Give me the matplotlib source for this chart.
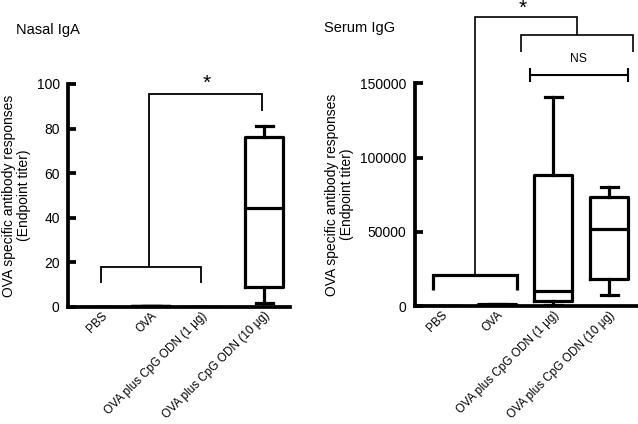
import matplotlib
matplotlib.use("Agg")
import matplotlib.pyplot as plt

plt.rcParams['font.family'] = ['Liberation Sans', 'DejaVu Sans']

categories = ["PBS", "OVA", "OVA plus CpG ODN (1 μg)", "OVA plus CpG ODN (10 μg)"]

# Nasal IgA box stats: (min, q1, median, q3, max)
iga_stats = [
    (0, 0, 0, 0, 0),
    (0.3, 0.3, 0.3, 0.3, 0.3),
    (0, 0, 0, 0, 0),
    (2, 8.8, 44.2, 76.4, 81.3),
]
# Serum IgG box stats
igg_stats = [
    (0, 0, 0, 0, 0),
    (0, 0, 800, 1500, 1500),
    (500, 3570, 10300, 88200, 141000),
    (7200, 18400, 52100, 73600, 80400),
]

iga_ticks = [0, 20, 40, 60, 80, 100]
igg_ticks = [0, 50000, 100000, 150000]

fig = plt.figure(figsize=(6.38, 4.24), dpi=100)

LW = 2.3


def make_stats(stats):
    out = []
    for mn, q1, med, q3, mx in stats:
        out.append(dict(whislo=mn, q1=q1, med=med, q3=q3, whishi=mx, fliers=[]))
    return out


def style_axes(ax, ticks, ylim):
    for s in ['top', 'right']:
        ax.spines[s].set_visible(False)
    ax.spines['left'].set_linewidth(LW + 0.4)
    ax.spines['bottom'].set_linewidth(LW + 0.4)
    ax.spines['left'].set_bounds(ticks[0], ticks[-1])
    ax.set_ylim(*ylim)
    ax.set_yticks(ticks)
    ax.set_yticklabels([str(t) for t in ticks], fontsize=10)
    ax.tick_params(axis='y', direction='in', length=6, width=LW + 0.4, pad=6)
    ax.tick_params(axis='x', length=0, pad=2)


def line(ax, xs, ys, lw):
    ax.plot(xs, ys, color='black', lw=lw, clip_on=False, solid_capstyle='butt',
            solid_joinstyle='miter')


# ---------- Left panel: Nasal IgA ----------
ax1 = fig.add_axes([0.1066, 0.276, 0.348, 0.526])
pos1 = [1, 2, 3, 4.26]
ax1.bxp(make_stats(iga_stats), positions=pos1, widths=0.76, showfliers=False,
        boxprops=dict(lw=LW, color='black'), whiskerprops=dict(lw=LW, color='black'),
        capprops=dict(lw=LW, color='black'), medianprops=dict(lw=LW, color='black'),
        capwidths=0.34, manage_ticks=False)
ax1.set_xlim(0.34, 4.78)
style_axes(ax1, iga_ticks, (0, 100))
ax1.set_xticks(pos1)
ax1.set_xticklabels(categories, rotation=45, ha='right', rotation_mode='anchor', fontsize=8.5)
ax1.set_ylabel("OVA specific antibody responses\n(Endpoint titer)", fontsize=10, labelpad=4,
               linespacing=1.1)
# significance bracket
line(ax1, [1, 1, 3, 3], [10.9, 17.8, 17.8, 10.9], 1.3)
line(ax1, [1.96, 1.96, 4.22, 4.22], [17.8, 95.4, 95.4, 88], 1.3)
ax1.text(3.12, 96, "*", ha='center', va='bottom', fontsize=15)

# ---------- Right panel: Serum IgG ----------
ax2 = fig.add_axes([0.650, 0.278, 0.348, 0.5255])
pos2 = [1, 2, 3, 4]
ax2.bxp(make_stats(igg_stats), positions=pos2, widths=0.68, showfliers=False,
        boxprops=dict(lw=LW, color='black'), whiskerprops=dict(lw=LW, color='black'),
        capprops=dict(lw=LW, color='black'), medianprops=dict(lw=LW, color='black'),
        capwidths=0.3, manage_ticks=False)
ax2.set_xlim(0.53, 4.49)
style_axes(ax2, igg_ticks, (0, 150000))
ax2.set_xticks(pos2)
ax2.set_xticklabels(categories, rotation=45, ha='right', rotation_mode='anchor', fontsize=8.5)
ax2.set_ylabel("OVA specific antibody responses\n(Endpoint titer)", fontsize=10, labelpad=4,
               linespacing=1.1)
line(ax2, [0.857, 0.857, 2.35, 2.35], [10800, 20900, 20900, 10800], 2.3)
line(ax2, [1.6, 1.6, 3.43, 3.43], [20900, 194500, 194500, 182500], 1.2)
line(ax2, [2.43, 2.43, 4.43, 4.43], [171300, 182500, 182500, 171300], 1.2)
line(ax2, [2.58, 4.33], [155600, 155600], 1.5)
line(ax2, [2.58, 2.58], [151000, 160200], 1.5)
line(ax2, [4.33, 4.33], [151000, 160200], 1.5)
ax2.text(3.45, 162500, "NS", ha='center', va='bottom', fontsize=8.7)
ax2.text(2.46, 194000, "*", ha='center', va='bottom', fontsize=15)

fig.text(0.025, 0.93, "Nasal IgA", fontsize=10.5, va='center', ha='left')
fig.text(0.508, 0.933, "Serum IgG", fontsize=10.5, va='center', ha='left')

fig.savefig("out.png", dpi=100)
